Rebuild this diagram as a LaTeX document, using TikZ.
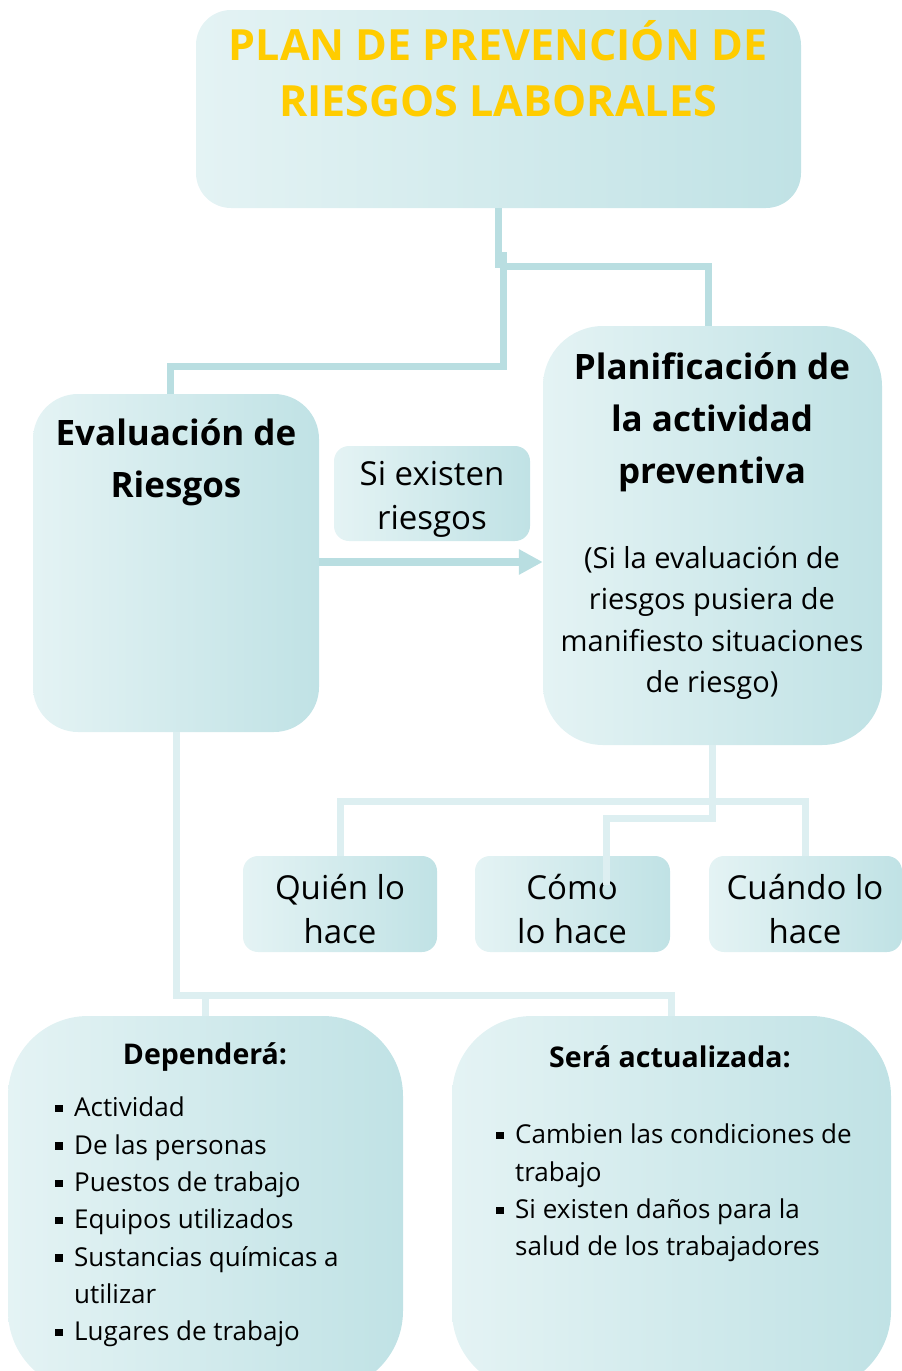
\documentclass[tikz,border=0pt]{standalone}
\usepackage{fontspec}
\setmainfont{Open Sans}
\usetikzlibrary{arrows.meta}
\definecolor{boxL}{HTML}{E4F3F4}
\definecolor{boxR}{HTML}{C0E2E5}
\definecolor{conn}{HTML}{B9DEE1}
\definecolor{connlight}{HTML}{DDEFF1}
\definecolor{titleyel}{HTML}{FFCC00}
\newcommand{\bsq}{\makebox[19pt][l]{\raisebox{0.17em}{\rule{7.5pt}{7.5pt}}}}
\newcommand{\bind}{\hspace*{19pt}}
\begin{document}
\begin{tikzpicture}[x=1pt,y=-1pt,
  panel/.style={rectangle, rounded corners=#1, left color=boxL, right color=boxR, inner sep=0pt, draw=none},
  ttl/.style={font=\fontsize{43}{56}\selectfont\bfseries, text=titleyel, align=center, inner sep=0pt},
  head/.style={font=\fontsize{35}{52}\selectfont\bfseries, align=center, inner sep=0pt},
  mid/.style={font=\fontsize{33}{44}\selectfont, align=center, inner sep=0pt},
  body/.style={font=\fontsize{29}{41.5}\selectfont, align=center, inner sep=0pt},
  sub/.style={font=\fontsize{28.5}{37}\selectfont\bfseries, align=center, inner sep=0pt},
  lst/.style={font=\fontsize{26}{37.3}\selectfont, align=left, inner sep=0pt, anchor=west},
  conn/.style={draw=conn, line width=7pt},
  connl/.style={draw=connlight, line width=7pt},
  arr/.style={draw=conn, line width=8pt, -{Triangle[length=24pt,width=24pt]}}
]
\useasboundingbox (0,0) rectangle (902,1371);
\clip (0,0) rectangle (902,1371);
% boxes
\node[panel=35, minimum width=605pt, minimum height=198pt] (title) at (498.5,109) {};
\node[panel=45, minimum width=286pt, minimum height=338pt] (eval) at (176,563) {};
\node[panel=15, minimum width=196pt, minimum height=95pt] (si) at (432,493.5) {};
\node[panel=60, minimum width=339pt, minimum height=419pt] (planif) at (712.5,535.5) {};
\node[panel=15, minimum width=194pt, minimum height=96pt] (quien) at (340,904) {};
\node[panel=15, minimum width=195pt, minimum height=96pt] (como) at (572.5,904) {};
\node[panel=15, minimum width=193pt, minimum height=96pt] (cuando) at (805.5,904) {};
\node[panel=80, minimum width=395pt, minimum height=375pt] (dep) at (205.5,1203.5) {};
\node[panel=80, minimum width=439pt, minimum height=375pt] (sera) at (671.5,1203.5) {};
% texts
\node[ttl] (titletxt) at (498,69) {PLAN DE PREVENCIÓN DE\\RIESGOS LABORALES};
\node[head] (evaltxt) at (176,462) {Evaluación de\\Riesgos};
\node[mid] (sitxt) at (432,499) {Si existen\\riesgos};
\node[head] (planiftxt) at (712,422) {Planificación de\\la actividad\\preventiva};
\node[body] (planifbody) at (712,623) {(Si la evaluación de\\riesgos pusiera de\\manifiesto situaciones\\de riesgo)};
\node[mid] (quientxt) at (340,909) {Quién lo\\hace};
\node[mid] (comotxt) at (572,909) {Cómo\\lo hace};
\node[mid] (cuandotxt) at (805,909) {Cuándo lo\\hace};
\node[sub] (deptxt) at (205,1057) {Dependerá:};
\node[sub] (seratxt) at (670,1057) {Será actualizada:};
\node[lst] (deplist) at (55,1222) {\bsq Actividad\\\bsq De las personas\\\bsq Puestos de trabajo\\\bsq Equipos utilizados\\\bsq Sustancias químicas a\\\bind utilizar\\\bsq Lugares de trabajo};
\node[lst] (seralist) at (496,1193) {\bsq Cambien las condiciones de\\\bind trabajo\\\bsq Si existen daños para la\\\bind salud de los trabajadores};
% connectors
\coordinate (tj) at (498,268);
\coordinate (ja) at (503,252);
\coordinate (jb) at (503,366);
\coordinate (jc) at (503,266);
\draw[conn] (title.south) -- (title.south |- tj);
\draw[conn] (ja) -- (jb) -| ([xshift=-6pt]eval.north);
\draw[conn] (jc) -| ([xshift=-4pt]planif.north);
\coordinate (ay) at (0,562);
\draw[arr] (eval.east |- ay) -- (planif.west |- ay);
\coordinate (hb) at (0,801);
\coordinate (hc) at (0,818);
\coordinate (cend) at (606,885);
\draw[connl] (planif.south) -- (planif.south |- hb);
\draw[connl] (quien.north) -- (quien.north |- hb) -- (cuando.north |- hb) -- (cuando.north);
\draw[connl] (planif.south |- hb) -- (planif.south |- hc) -| (cend);
\coordinate (hd) at (0,995);
\draw[connl] (eval.south) -- (eval.south |- hd) -| (sera.north);
\draw[connl] (dep.north |- hd) -- (dep.north);
\end{tikzpicture}
\end{document}
